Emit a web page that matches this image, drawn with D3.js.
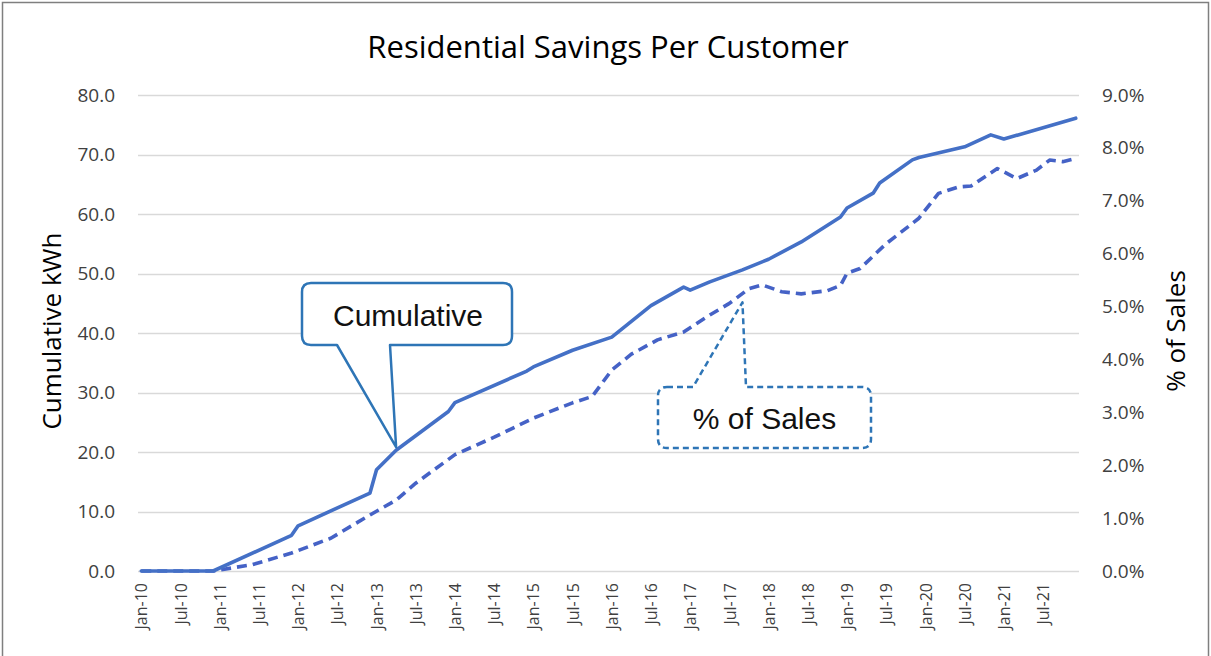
<!DOCTYPE html>
<html>
<head>
<meta charset="utf-8">
<script src="https://cdn.jsdelivr.net/npm/d3@7"></script>
<style>
  html, body { margin: 0; padding: 0; background: #ffffff; }
  svg { display: block; }
</style>
</head>
<body>
<svg id="chart" width="1211" height="656"></svg>
<script>
// ---------- DATA ----------
const chartTitle = "Residential Savings Per Customer";
const leftAxisTitle = "Cumulative kWh";
const rightAxisTitle = "% of Sales";

// month categories: Jan-10 .. Dec-21
const firstYear = 2010, monthCount = 144;
const tickLabels = ["Jan-10","Jul-10","Jan-11","Jul-11","Jan-12","Jul-12","Jan-13","Jul-13",
  "Jan-14","Jul-14","Jan-15","Jul-15","Jan-16","Jul-16","Jan-17","Jul-17","Jan-18","Jul-18",
  "Jan-19","Jul-19","Jan-20","Jul-20","Jan-21","Jul-21"];
const leftTicks = [0, 10, 20, 30, 40, 50, 60, 70, 80];
const rightTicks = [0, 1, 2, 3, 4, 5, 6, 7, 8, 9];

// Cumulative kWh (solid) – month (YYYY-MM) and value
const cumMonths = ["2010-01","2010-12","2011-12","2012-01","2012-12","2013-01","2013-04","2013-12",
  "2014-01","2014-12","2015-01","2015-07","2016-01","2016-07","2016-12","2017-01","2017-04","2017-09",
  "2018-01","2018-06","2018-12","2019-01","2019-05","2019-06","2019-11","2019-12","2020-07","2020-11",
  "2021-01","2021-12"];
const cumValues = [0, 0, 6.0, 7.6, 13.1, 17.0, 20.3, 26.8,
  28.3, 33.6, 34.3, 37.1, 39.3, 44.6, 47.7, 47.2, 48.6, 50.6,
  52.4, 55.3, 59.5, 61.0, 63.5, 65.2, 69.1, 69.5, 71.3, 73.3,
  72.6, 76.1];

// % of Sales (dashed) – month and percent
const pctMonths = ["2010-01","2010-12","2011-06","2011-12","2012-06","2012-12","2013-04","2013-07",
  "2014-01","2014-07","2015-01","2015-07","2015-10","2016-01","2016-04","2016-08","2016-12","2017-04",
  "2017-07","2017-10","2017-12","2018-03","2018-06","2018-10","2018-12","2019-01","2019-03","2019-07",
  "2019-09","2019-12","2020-03","2020-06","2020-08","2020-12","2021-03","2021-06","2021-08","2021-10","2021-12"];
const pctValues = [0, 0, 0.12, 0.34, 0.62, 1.06, 1.34, 1.66,
  2.2, 2.53, 2.89, 3.18, 3.3, 3.8, 4.1, 4.37, 4.52, 4.84,
  5.06, 5.34, 5.41, 5.28, 5.24, 5.30, 5.40, 5.63, 5.72, 6.19,
  6.38, 6.67, 7.14, 7.26, 7.28, 7.61, 7.42, 7.58, 7.77, 7.74, 7.80];

// callout annotations
const cumCallout = { text: "Cumulative", month: "2013-04", value: 20.8 };
const pctCallout = { text: "% of Sales", month: "2017-09", value: 5.08 };

// ---------- CHART ----------
const svg = d3.select("#chart");
const W = 1211, H = 656;
const plot = { left: 138, right: 1079, top: 95, bottom: 571 };
const lineColor = "#4470C6";
const calloutColor = "#2E75B6";
const axisFont = "'Open Sans', 'Noto Sans', sans-serif";
const labelColor = "#404040";

const monthIndex = s => { const [y, m] = s.split("-").map(Number); return (y - firstYear) * 12 + (m - 1); };

const x = d3.scaleLinear().domain([-0.5, monthCount - 0.5]).range([plot.left, plot.right]);
const yL = d3.scaleLinear().domain([0, 80]).range([plot.bottom, plot.top]);
const yR = d3.scaleLinear().domain([0, 9]).range([plot.bottom, plot.top]);

// background & frame
svg.append("rect").attr("x", 0).attr("y", 0).attr("width", W).attr("height", H).attr("fill", "#fff");
svg.append("rect").attr("x", 2.5).attr("y", 2.5).attr("width", W - 5).attr("height", H + 10)
  .attr("fill", "none").attr("stroke", "#7f7f7f").attr("stroke-width", 1.5);

// title
svg.append("text").attr("x", 608).attr("y", 58).attr("text-anchor", "middle")
  .attr("font-family", axisFont).attr("font-size", 31).attr("fill", "#000")
  .text(chartTitle);

// gridlines
svg.append("g").selectAll("line").data(leftTicks).join("line")
  .attr("x1", plot.left).attr("x2", plot.right)
  .attr("y1", d => Math.round(yL(d)) + 0.5).attr("y2", d => Math.round(yL(d)) + 0.5)
  .attr("stroke", "#d9d9d9").attr("stroke-width", 1.4);

// left axis
const gL = svg.append("g").attr("transform", `translate(${plot.left},0)`)
  .call(d3.axisLeft(yL).tickValues(leftTicks).tickFormat(d3.format(".1f")).tickSize(0).tickPadding(23));
gL.select(".domain").remove();
gL.selectAll("text").attr("font-family", axisFont).attr("font-size", 19).attr("fill", labelColor);

// right axis
const gR = svg.append("g").attr("transform", `translate(${plot.right},0)`)
  .call(d3.axisRight(yR).tickValues(rightTicks).tickFormat(d => d.toFixed(1) + "%").tickSize(0).tickPadding(23));
gR.select(".domain").remove();
gR.selectAll("text").attr("font-family", axisFont).attr("font-size", 19).attr("fill", labelColor);

// bottom axis
const tickIdx = tickLabels.map((_, i) => i * 6);
const gB = svg.append("g").attr("transform", `translate(0,${plot.bottom})`)
  .call(d3.axisBottom(x).tickValues(tickIdx).tickFormat((d, i) => tickLabels[i]).tickSize(0).tickPadding(0));
gB.select(".domain").remove();
gB.selectAll("text")
  .attr("font-family", axisFont).attr("font-size", 16).attr("fill", labelColor)
  .attr("transform", "rotate(-90)")
  .attr("text-anchor", "end")
  .attr("x", -12).attr("y", 0).attr("dy", "0.35em");

// axis titles
svg.append("text").attr("transform", `translate(52,${(plot.top + plot.bottom) / 2 - 2}) rotate(-90)`)
  .attr("text-anchor", "middle").attr("dy", "0.35em")
  .attr("font-family", axisFont).attr("font-size", 26).attr("fill", "#000").text(leftAxisTitle);
svg.append("text").attr("transform", `translate(1176,${(plot.top + plot.bottom) / 2 - 2}) rotate(-90)`)
  .attr("text-anchor", "middle").attr("dy", "0.35em")
  .attr("font-family", axisFont).attr("font-size", 26).attr("fill", "#000").text(rightAxisTitle);

// lines
const cumData = cumMonths.map((m, i) => ({ i: monthIndex(m), v: cumValues[i] }));
const pctData = pctMonths.map((m, i) => ({ i: monthIndex(m), v: pctValues[i] }));

svg.append("path").datum(pctData)
  .attr("fill", "none").attr("stroke", "#4562C6").attr("stroke-width", 3.6)
  .attr("stroke-dasharray", "10,6").attr("stroke-linejoin", "round")
  .attr("d", d3.line().x(d => x(d.i)).y(d => yR(d.v)));

svg.append("path").datum(cumData)
  .attr("fill", "none").attr("stroke", lineColor).attr("stroke-width", 3.6)
  .attr("stroke-linejoin", "round").attr("stroke-linecap", "round")
  .attr("d", d3.line().x(d => x(d.i)).y(d => yL(d.v)));

// callouts
function calloutPath(b, baseL, baseR, tip, r) {
  return `M${b.x0 + r},${b.y0} H${b.x1 - r} Q${b.x1},${b.y0} ${b.x1},${b.y0 + r}` +
    ` V${b.y1 - r} Q${b.x1},${b.y1} ${b.x1 - r},${b.y1}` +
    ` H${baseR} L${tip[0]},${tip[1]} L${baseL},${b.y1}` +
    ` H${b.x0 + r} Q${b.x0},${b.y1} ${b.x0},${b.y1 - r} V${b.y0 + r} Q${b.x0},${b.y0} ${b.x0 + r},${b.y0} Z`;
}
function calloutPathTop(b, baseL, baseR, tip, r) {
  // pointer leaves from the top edge
  return `M${b.x0 + r},${b.y0} H${baseL} L${tip[0]},${tip[1]} L${baseR},${b.y0} H${b.x1 - r} Q${b.x1},${b.y0} ${b.x1},${b.y0 + r}` +
    ` V${b.y1 - r} Q${b.x1},${b.y1} ${b.x1 - r},${b.y1}` +
    ` H${b.x0 + r} Q${b.x0},${b.y1} ${b.x0},${b.y1 - r} V${b.y0 + r} Q${b.x0},${b.y0} ${b.x0 + r},${b.y0} Z`;
}

const calloutFont = "'Liberation Sans', Arial, sans-serif";
const cumTip = [x(monthIndex(cumCallout.month)), yL(cumCallout.value)];
const cumBox = { x0: 302, y0: 283, x1: 512, y1: 345 };
svg.append("path").attr("d", calloutPath(cumBox, 337, 390, cumTip, 9))
  .attr("fill", "#fff").attr("stroke", calloutColor).attr("stroke-width", 2.5).attr("stroke-linejoin", "round");
svg.append("text").attr("x", (cumBox.x0 + cumBox.x1) / 2 + 1).attr("y", (cumBox.y0 + cumBox.y1) / 2 + 1)
  .attr("dy", "0.35em").attr("text-anchor", "middle")
  .attr("font-family", calloutFont).attr("font-size", 30).attr("fill", "#111")
  .text(cumCallout.text);

const pctTip = [x(monthIndex(pctCallout.month)), yR(pctCallout.value)];
const pctBox = { x0: 658, y0: 387, x1: 871, y1: 448 };
svg.append("path").attr("d", calloutPathTop(pctBox, 693, 746, pctTip, 9))
  .attr("fill", "#fff").attr("stroke", calloutColor).attr("stroke-width", 2.5)
  .attr("stroke-dasharray", "6,4").attr("stroke-linejoin", "round");
svg.append("text").attr("x", (pctBox.x0 + pctBox.x1) / 2).attr("y", (pctBox.y0 + pctBox.y1) / 2 + 1)
  .attr("dy", "0.35em").attr("text-anchor", "middle")
  .attr("font-family", calloutFont).attr("font-size", 30).attr("fill", "#111")
  .text(pctCallout.text);
</script>
</body>
</html>
